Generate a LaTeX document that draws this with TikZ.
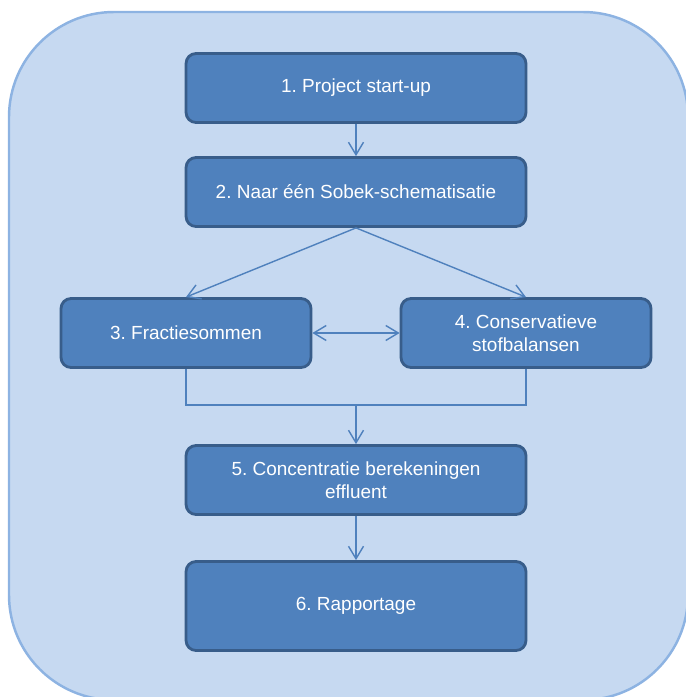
\documentclass[tikz,border=0pt]{standalone}
\usepackage{fontspec}
\setmainfont{Liberation Sans}
\frenchspacing
\usetikzlibrary{arrows.meta}
\definecolor{boxfill}{HTML}{4F81BD}
\definecolor{boxline}{HTML}{385D8A}
\definecolor{panelfill}{HTML}{C6D9F1}
\definecolor{panelline}{HTML}{8DB3E2}
\tikzstyle{stepbox}=[rectangle,rounded corners=0.2cm,fill=boxfill,draw=boxline,line width=1.6pt,text=white,align=center,minimum width=6.8cm,minimum height=1.38cm,inner sep=0pt,font=\fontsize{10.8}{13}\selectfont]
\tikzstyle{halfbox}=[stepbox,minimum width=5cm]
\tikzstyle{flow}=[boxfill,line width=0.8pt]

\begin{document}
\begin{tikzpicture}[x=0.02cm, y=-0.02cm, >={Straight Barb[length=2.5mm,width=3mm]}]
\useasboundingbox (0, 0) rectangle (686, 697);
\clip (0, 0) rectangle (686, 697);
\draw[panelline, fill=panelfill, line width=1.4pt, rounded corners=2.1cm] (9, 12) rectangle (688, 700);
\node[stepbox] at (356, 88) (start) {1. Project start-up};
\node[stepbox] at (356, 192) (schema) {2. Naar één Sobek-schematisatie};
\node[halfbox] at (186, 333) (fractie) {3. Fractiesommen};
\node[halfbox] at (526, 333) (stofbal) {4. Conservatieve\\stofbalansen};
\node[stepbox] at (356, 480) (conc) {5. Concentratie berekeningen\\effluent};
\node[stepbox, minimum height=1.78cm] at (356, 606) (rapport) {6. Rapportage};
\coordinate (merge) at (356, 405);
\draw[->, flow] (start) -- (schema);
\draw[->, flow] (schema.south) -- (fractie.north);
\draw[->, flow] (schema.south) -- (stofbal.north);
\draw[<->, flow] (fractie) -- (stofbal);
\draw[flow] (fractie.south) |- (merge) -| (stofbal.south);
\draw[->, flow] (merge) -- (conc);
\draw[->, flow] (conc) -- (rapport);
\end{tikzpicture}
\end{document}
